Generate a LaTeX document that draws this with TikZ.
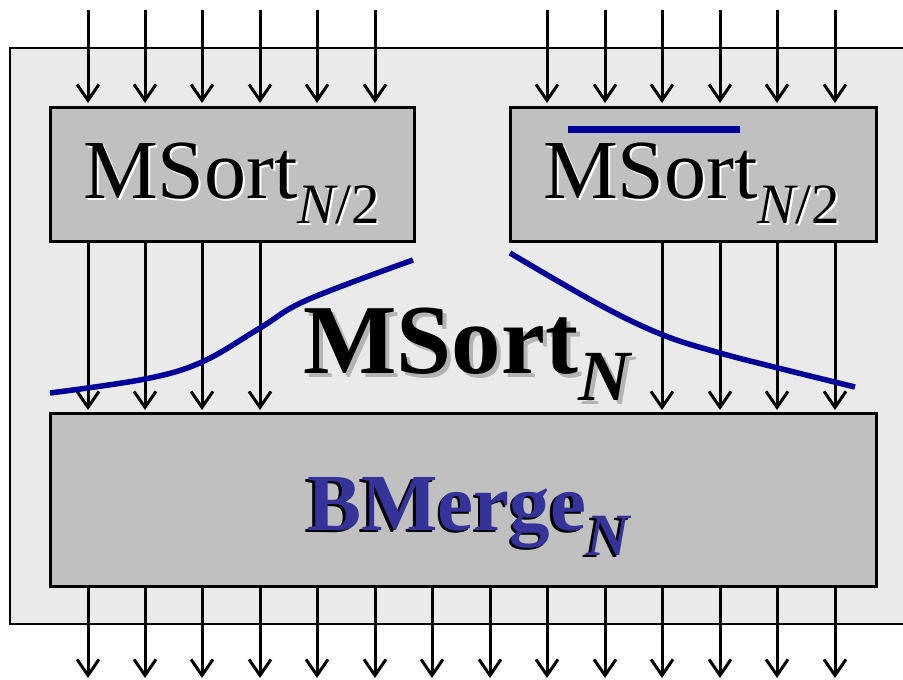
\documentclass[tikz,border=0pt]{standalone}
\usepackage{fontspec}
\setmainfont{Liberation Serif}
\usetikzlibrary{arrows.meta}
\definecolor{outerfill}{HTML}{EAEAEA}
\definecolor{boxfill}{HTML}{C0C0C0}
\definecolor{navy}{HTML}{000099}
\definecolor{textblue}{HTML}{333399}
\definecolor{shadowgray}{HTML}{B4B4B4}
\newcommand\topfont{\fontsize{84}{84}\selectfont}
\newcommand\topsub{\fontsize{57}{57}\selectfont}
\newcommand\bigfont{\fontsize{99}{99}\selectfont\bfseries}
\newcommand\bigsub{\fontsize{72}{72}\selectfont\bfseries\itshape}
\newcommand\bmfont{\fontsize{81}{81}\selectfont\bfseries}
\newcommand\bmsub{\fontsize{60}{60}\selectfont\bfseries\itshape}
% #1 shadow colour, #2 dx, #3 dy (downwards), #4 text
\newcommand\shadowed[4]{\rlap{\hspace*{#2}\raisebox{-#3}{\textcolor{#1}{#4}}}#4}
\newcommand\topname{MSort\raisebox{-25pt}{\topsub\itshape N\upshape/2}}
\begin{document}
\begin{tikzpicture}[x=1pt,y=-1pt,
  sortbox/.style={draw=black,line width=2.8pt,fill=boxfill,rectangle,inner sep=0pt,anchor=north west},
  arr/.style={draw=black,line width=3pt,-{Straight Barb[length=16pt,width=22pt,line width=3pt]}},
  lbl/.style={anchor=base west,inner sep=0pt},
  curve/.style={draw=navy,line width=5.5pt}]
\useasboundingbox (0,0) rectangle (903,680);
\clip (0,0) rectangle (903,680);
% outer box
\draw[fill=outerfill,line width=1.8pt] (10,48) rectangle (915,624);
% boxes
\node[sortbox,minimum width=364pt,minimum height=134pt] (tl) at (49,106) {};
\node[sortbox,minimum width=366pt,minimum height=134pt] (tr) at (509,106) {};
\node[sortbox,minimum width=826pt,minimum height=173pt] (bm) at (49,412) {};
% input arrows
\foreach \x [count=\i] in {88,145,202,260,317,375} {
  \coordinate (inl\i) at (\x,10);
  \draw[arr] (inl\i) -- ([yshift=3pt]tl.north -| inl\i);
}
\foreach \x [count=\i] in {547,605,662,720,777,835} {
  \coordinate (inr\i) at (\x,10);
  \draw[arr] (inr\i) -- ([yshift=3pt]tr.north -| inr\i);
}
% middle arrows
\foreach \x [count=\i] in {88,145,202,260} {
  \coordinate (ml\i) at (\x,240);
  \draw[arr] (tl.south -| ml\i) -- ([yshift=2pt]bm.north -| ml\i);
}
\foreach \x [count=\i] in {662,720,777,835} {
  \coordinate (mr\i) at (\x,240);
  \draw[arr] (tr.south -| mr\i) -- ([yshift=2pt]bm.north -| mr\i);
}
% output arrows
\foreach \x [count=\i] in {88,145,202,260,317,375,432,490,547,605,662,720,777,835} {
  \coordinate (out\i) at (\x,678);
  \draw[arr] (bm.south -| out\i) -- (out\i);
}
% blue curves
\draw[curve] plot[smooth,tension=0.6] coordinates {(50,393) (145,379) (202,362) (260,328) (307,300) (413,260)};
\draw[curve] plot[smooth,tension=0.6] coordinates {(510,253) (600,305) (663,335) (720,353) (778,368) (855,387)};
% overline
\draw[navy,line width=7pt] (568,129) -- (740,129);
% texts
\node[lbl,text=black] (tlT) at (83,198) {\topfont\shadowed{white}{2pt}{2pt}{\topname}};
\node[lbl,text=black] (trT) at (543,198) {\topfont\shadowed{white}{2pt}{2pt}{\topname}};
\node[lbl,text=black] (bigT) at (303,373) {\bigfont\shadowed{shadowgray}{4pt}{4pt}{MSort\raisebox{-27pt}{\bigsub N}}};
\node[lbl,text=textblue] (bmT) at (307,530) {\bmfont\shadowed{black}{-2.5pt}{2.5pt}{BMerge\raisebox{-25pt}{\bmsub N}}};
\end{tikzpicture}
\end{document}
